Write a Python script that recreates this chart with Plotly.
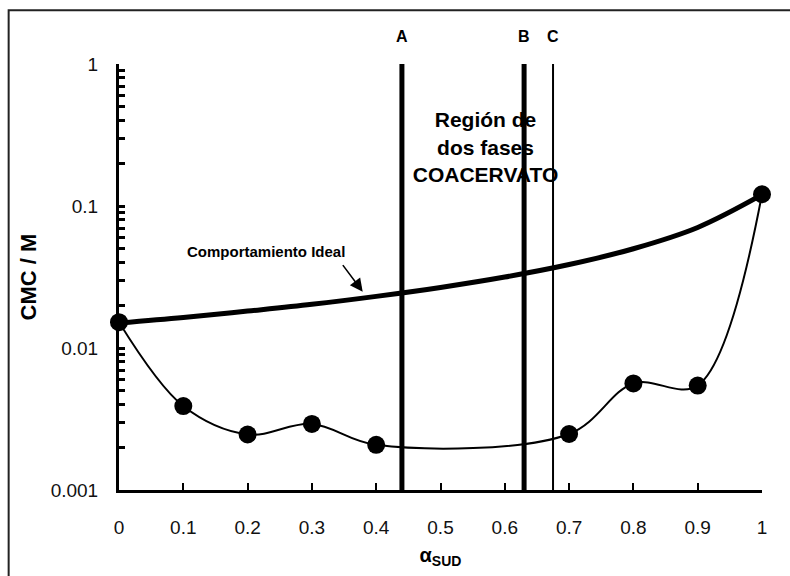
import plotly.graph_objects as go

# ---- data ----
alpha_exp = [0.0, 0.1, 0.2, 0.3, 0.4, 0.7, 0.8, 0.9, 1.0]
cmc_exp = [0.0152, 0.0039, 0.00246, 0.00292, 0.00208, 0.00248, 0.00563, 0.00544, 0.121]

alpha_ideal = [0.0, 0.1, 0.2, 0.3, 0.4, 0.5, 0.6, 0.7, 0.8, 0.9, 1.0]
cmc_ideal = [0.015, 0.0164, 0.0182, 0.0203, 0.0231, 0.0267, 0.0316, 0.0387, 0.050, 0.0706, 0.12]

phase_lines = [0.44, 0.63, 0.675]
phase_labels = ["A", "B", "C"]
phase_widths = [5, 5, 2]

x_ticks = [0, 0.1, 0.2, 0.3, 0.4, 0.5, 0.6, 0.7, 0.8, 0.9, 1]
x_ticktext = ["0", "0.1", "0.2", "0.3", "0.4", "0.5", "0.6", "0.7", "0.8", "0.9", "1"]
y_ticks = [0.001, 0.01, 0.1, 1]
y_ticktext = ["0.001", "0.01", "0.1", "1"]
y_minor = [k * 10 ** e for e in (-3, -2, -1) for k in range(2, 10)]

FONT = "Liberation Sans, Arial, sans-serif"
W, H = 790, 576
L, R, T, B = 119.3, 28, 64, 84
pw, ph = W - L - R, H - T - B


def px2paper(px, py):
    return (px - L) / pw, (H - B - py) / ph


fig = go.Figure()

# region text (drawn beneath the vertical lines)
fig.add_trace(go.Scatter(
    x=[0.570], y=[0.25], mode="text",
    text=["<b>Región de<br>dos fases<br>COACERVATO</b>"],
    textfont=dict(family=FONT, size=21, color="black"),
    hoverinfo="skip", showlegend=False, cliponaxis=False,
))

# ideal behaviour
fig.add_trace(go.Scatter(
    x=alpha_ideal, y=cmc_ideal, mode="lines",
    line=dict(color="black", width=5, shape="spline", smoothing=1),
    showlegend=False, cliponaxis=False,
))

# experimental
fig.add_trace(go.Scatter(
    x=alpha_exp, y=cmc_exp, mode="lines+markers",
    line=dict(color="black", width=2, shape="spline", smoothing=1),
    marker=dict(color="black", size=18, symbol="circle"),
    showlegend=False, cliponaxis=False,
))

# vertical phase boundaries
for xv, w in zip(phase_lines, phase_widths):
    fig.add_trace(go.Scatter(
        x=[xv, xv], y=[0.001, 1], mode="lines",
        line=dict(color="black", width=w),
        showlegend=False, cliponaxis=False, hoverinfo="skip",
    ))

annotations = []
for xv, lab in zip(phase_lines, phase_labels):
    annotations.append(dict(
        x=xv, xref="x", y=1.0, yref="paper", yshift=28,
        xanchor="center", yanchor="middle",
        text="<b>%s</b>" % lab, showarrow=False,
        font=dict(family=FONT, size=16, color="black"),
    ))

# Comportamiento Ideal label and arrow
lx, ly = px2paper(266, 252)
annotations.append(dict(
    x=lx, xref="paper", y=ly, yref="paper",
    xanchor="center", yanchor="middle",
    text="<b>Comportamiento Ideal</b>", showarrow=False,
    font=dict(family=FONT, size=15, color="black"),
))
annotations.append(dict(
    x=0.379, y=-1.603, xref="x", yref="y",
    ax=-21, ay=-28, text="", showarrow=True,
    arrowhead=2, arrowsize=1.6, arrowwidth=1.6, arrowcolor="black",
))

# outer frame
x0p, y0p = px2paper(9, 10)
x1p, y1p = px2paper(800, 590)
shapes = [dict(type="rect", xref="paper", yref="paper",
               x0=x0p, y0=y1p, x1=x1p, y1=y0p,
               line=dict(color="#222", width=2), layer="below")]

fig.update_layout(
    width=W, height=H,
    margin=dict(l=L, r=R, t=T, b=B, pad=0),
    paper_bgcolor="white", plot_bgcolor="white",
    font=dict(family=FONT, color="black"),
    annotations=annotations, shapes=shapes,
    showlegend=False,
)

fig.update_xaxes(
    range=[0, 1], tickvals=x_ticks, ticktext=x_ticktext,
    ticks="inside", ticklen=7, tickwidth=2, tickcolor="black",
    showline=True, linecolor="black", linewidth=2.5,
    showgrid=False, zeroline=False,
    tickfont=dict(family=FONT, size=19, color="#111"),
    ticklabelstandoff=18,
    title=dict(text="<b>α<sub>SUD</sub></b>", font=dict(family=FONT, size=20, color="black"), standoff=12),
)

fig.update_yaxes(
    type="log", range=[-3, 0], tickvals=y_ticks, ticktext=y_ticktext,
    ticks="inside", ticklen=6, tickwidth=2.5, tickcolor="black",
    minor=dict(tickvals=y_minor, ticks="inside", ticklen=6, tickwidth=2.5, tickcolor="black", showgrid=False),
    showline=True, linecolor="black", linewidth=3,
    showgrid=False, zeroline=False,
    tickfont=dict(family=FONT, size=19, color="#111"),
    ticklabelstandoff=14,
    title=dict(text="<b>CMC / M</b>", font=dict(family=FONT, size=22, color="black"), standoff=8),
)

fig.write_html("out.html")
